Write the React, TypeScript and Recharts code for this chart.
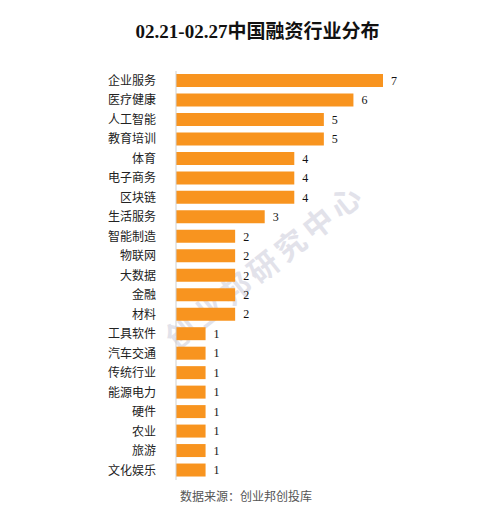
import { BarChart, Bar, XAxis, YAxis, LabelList } from "recharts";

const categories = ["企业服务", "医疗健康", "人工智能", "教育培训", "体育", "电子商务", "区块链", "生活服务", "智能制造", "物联网", "大数据", "金融", "材料", "工具软件", "汽车交通", "传统行业", "能源电力", "硬件", "农业", "旅游", "文化娱乐"];
const counts = [7, 6, 5, 5, 4, 4, 4, 3, 2, 2, 2, 2, 2, 1, 1, 1, 1, 1, 1, 1, 1];

const data = categories.map((name, i) => ({ name, value: counts[i] }));

const cjk = '"Liberation Serif", "Noto Sans CJK SC", serif';

export default function App() {
  return (
    <div style={{ position: "absolute", left: 0, top: 0, width: 495, height: 519, background: "#fff", fontFamily: cjk }}>
      <div style={{ position: "absolute", left: 0, width: 515, top: 16, textAlign: "center", fontSize: 19, fontWeight: "bold", color: "#111" }}>
        02.21-02.27中国融资行业分布
      </div>
      <div style={{ position: "absolute", left: 264, top: 264, transform: "translate(-50%, -50%) rotate(-38.5deg)", whiteSpace: "nowrap", fontSize: 30, fontWeight: "bold", color: "#e2e2ea", letterSpacing: 5, fontFamily: '"Noto Sans CJK SC", sans-serif' }}>
        创业邦研究中心
      </div>
      <div style={{ position: "absolute", left: 0, top: 0 }}>
        <BarChart width={495} height={519} data={data} layout="vertical" margin={{ top: 71, right: 112, bottom: 39, left: 96 }}>
          <XAxis type="number" domain={[0, 7]} hide />
          <YAxis type="category" dataKey="name" width={80} tickLine={false} tickMargin={14} axisLine={{ stroke: "#d0d0d0" }} interval={0} tick={{ fill: "#222", fontSize: 12, fontFamily: '"Noto Sans CJK SC", sans-serif' }} />
          <Bar dataKey="value" fill="#F8941F" barSize={13} isAnimationActive={false}>
            <LabelList dataKey="value" position="right" offset={8} fill="#111" fontSize={12} fontFamily='"Liberation Serif", serif' />
          </Bar>
        </BarChart>
      </div>
      <div style={{ position: "absolute", left: 0, width: 492, top: 487, textAlign: "center", fontSize: 12, color: "#555", fontFamily: '"Noto Sans CJK SC", sans-serif' }}>
        数据来源：创业邦创投库
      </div>
    </div>
  );
}
